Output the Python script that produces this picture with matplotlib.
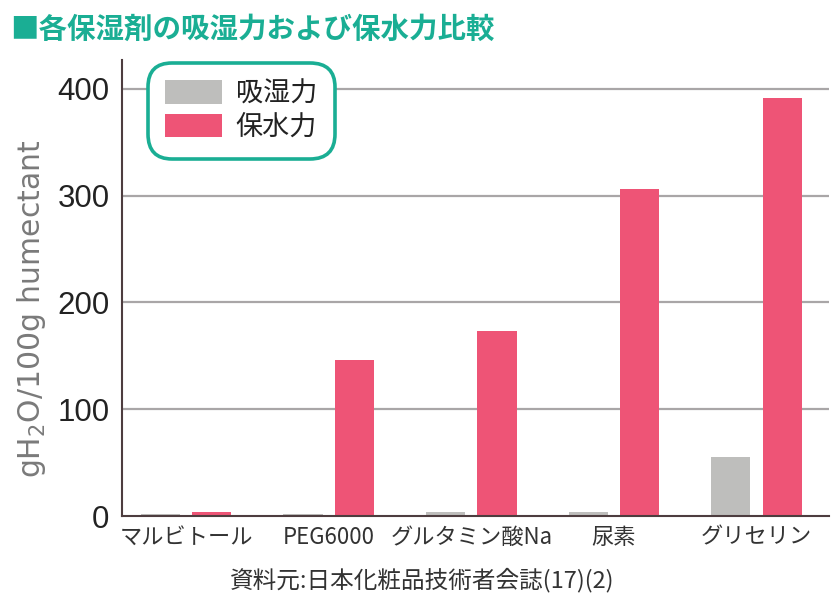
import numpy as np
import matplotlib
matplotlib.use("Agg")
from matplotlib import pyplot as plt

categories = ["マルビトール", "PEG6000", "グルタミン酸Na", "尿素", "グリセリン"]
hygroscopic = [1.5, 1.5, 4, 4, 55]      # 吸湿力
water_keep = [4, 146, 173, 306, 391]  # 保水力
yticks = [0, 100, 200, 300, 400]

teal = "#1aae94"
red = "#ee5476"
gray = "#bebebc"
axis_col = "#4d3d3f"

plt.rcParams["font.family"] = ["Liberation Sans", "Noto Sans CJK JP", "DejaVu Sans"]
plt.rcParams["mathtext.default"] = "regular"
jp = ["Noto Sans CJK JP", "DejaVu Sans"]

fig = plt.figure(figsize=(8.39, 6.05), dpi=100)
ax = fig.add_axes([0.1454, 0.147, 0.843, 0.754])

x = np.arange(len(categories))
w = 0.275
off = 0.18
ax.bar(x - off, hygroscopic, w, color=gray, label="吸湿力", zorder=3)
ax.bar(x + off, water_keep, w, color=red, label="保水力", zorder=3)

ax.set_xlim(-0.45, 4.51)
ax.set_ylim(0, 427)
ax.set_yticks(yticks)
ax.set_yticklabels([str(v) for v in yticks], fontsize=22.5, color="#222222")
ax.tick_params(axis="y", length=0, pad=9)
ax.set_xticks(x)
ax.set_xticklabels(categories, family=jp, fontsize=16, color="#333333")
ax.tick_params(axis="x", length=0, pad=7)

for v in yticks[1:]:
    ax.axhline(v, color="#a9a6a7", lw=1.6, zorder=1)

for s in ["top", "right"]:
    ax.spines[s].set_visible(False)
for s in ["left", "bottom"]:
    ax.spines[s].set_color(axis_col)
    ax.spines[s].set_linewidth(1.5)
    ax.spines[s].set_zorder(4)

fig.text(0.037, 0.49, "gH$_2$O/100g humectant", rotation=90, fontsize=21.5,
         family="DejaVu Sans", color="#7a7a7a", ha="center", va="center")

leg = ax.legend(loc="upper left", bbox_to_anchor=(0.025, 1.012), prop={"family": jp, "size": 19.5},
                handlelength=2.1, handleheight=0.95, handletextpad=0.5, labelspacing=0.25,
                borderpad=0.45, frameon=True, fancybox=True, labelcolor="#222222")
fr = leg.get_frame()
fr.set_edgecolor(teal)
fr.set_linewidth(2.6)
fr.set_boxstyle("round,pad=0.2,rounding_size=0.9")
fr.set_alpha(1)

fig.text(0.012, 0.95, "■各保湿剤の吸湿力および保水力比較", family=jp, fontsize=20.5,
         fontweight="semibold", color=teal, ha="left", va="center")
fig.text(0.503, 0.041, "資料元:日本化粧品技術者会誌(17)(2)", family=jp, fontsize=17,
         color="#333333", ha="center", va="center")

fig.savefig("out.png", dpi=100)
